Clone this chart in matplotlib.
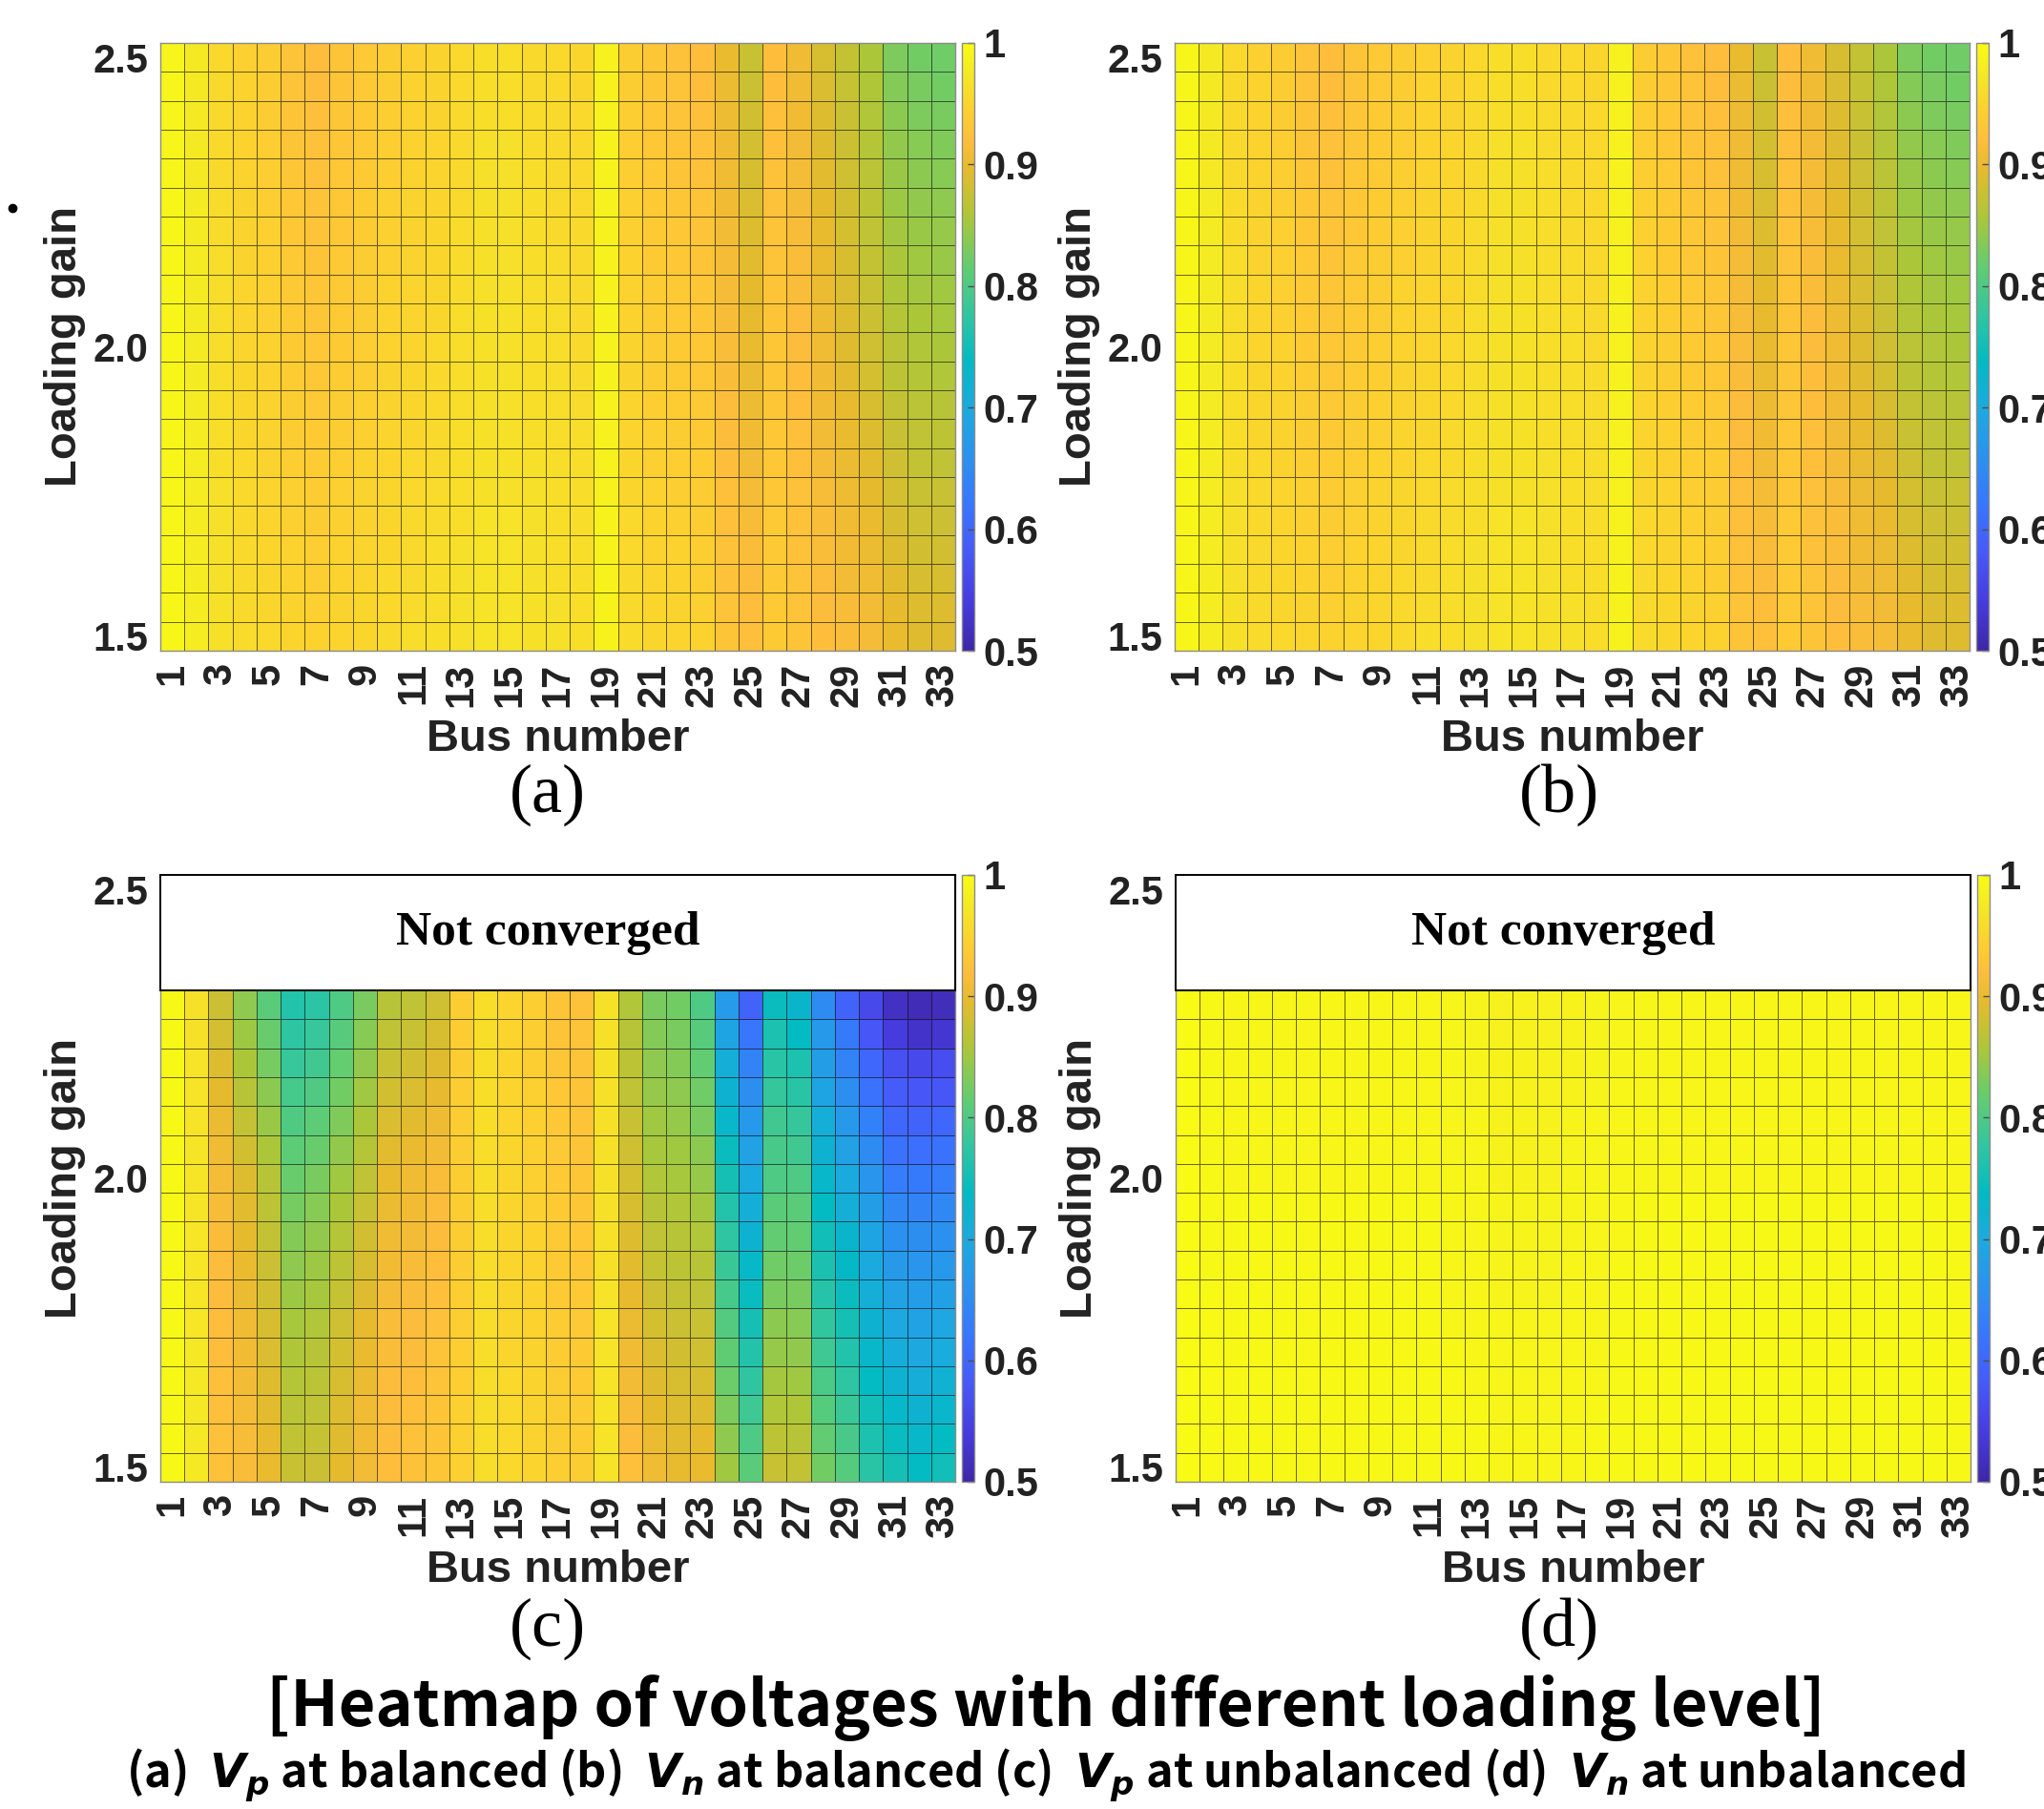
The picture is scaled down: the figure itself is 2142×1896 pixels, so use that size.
import matplotlib
matplotlib.use('Agg')

import numpy as np
import matplotlib.pyplot as plt
from matplotlib.colors import LinearSegmentedColormap
from matplotlib.patches import Rectangle
from matplotlib.lines import Line2D

# ---- data (per bus, voltage in p.u. vs loading gain) ----
buses = list(range(1, 34))
bus_ticks = list(range(1, 34, 2))
loading_bal = [1.50, 1.55, 1.60, 1.65, 1.70, 1.75, 1.80, 1.85, 1.90, 1.95, 2.00,
               2.05, 2.10, 2.15, 2.20, 2.25, 2.30, 2.35, 2.40, 2.45, 2.50]
loading_unbal = [1.50, 1.55, 1.60, 1.65, 1.70, 1.75, 1.80, 1.85, 1.90, 1.95, 2.00,
                 2.05, 2.10, 2.15, 2.20, 2.25, 2.30]
yticks = [1.5, 2.0, 2.5]
ytick_labels = ['1.5', '2.0', '2.5']
cb_ticks = [0.5, 0.6, 0.7, 0.8, 0.9, 1.0]
cb_labels = ['0.5', '0.6', '0.7', '0.8', '0.9', '1']

# (a) Vp at balanced, one list per bus, loading 1.5 -> 2.5
vp_bal = [
    [.994, .994, .994, .994, .994, .993, .993, .993, .993, .993, .993, .993, .993, .993, .993, .993, .992, .992, .992, .992, .992],
    [.980, .980, .980, .979, .979, .979, .979, .979, .978, .978, .978, .978, .977, .977, .977, .977, .976, .976, .976, .975, .975],
    [.965, .965, .964, .964, .963, .963, .962, .962, .961, .961, .960, .960, .959, .959, .958, .958, .957, .957, .956, .956, .955],
    [.958, .957, .957, .956, .955, .955, .954, .953, .953, .952, .951, .950, .950, .949, .949, .948, .947, .947, .946, .946, .945],
    [.954, .953, .952, .952, .951, .950, .949, .948, .948, .947, .946, .945, .945, .944, .944, .943, .942, .942, .941, .941, .940],
    [.950, .949, .947, .946, .945, .944, .942, .941, .940, .938, .937, .936, .935, .934, .933, .932, .930, .929, .928, .927, .926],
    [.946, .945, .943, .942, .940, .939, .938, .936, .935, .933, .932, .931, .930, .928, .927, .926, .925, .924, .922, .921, .920],
    [.950, .949, .947, .946, .945, .944, .942, .941, .940, .938, .937, .936, .935, .934, .933, .933, .932, .931, .930, .929, .928],
    [.953, .952, .951, .950, .949, .948, .946, .945, .944, .943, .942, .941, .940, .940, .939, .938, .937, .936, .936, .935, .934],
    [.956, .955, .954, .953, .952, .952, .951, .950, .949, .948, .947, .946, .946, .945, .944, .944, .943, .942, .942, .941, .940],
    [.959, .958, .957, .957, .956, .955, .954, .953, .953, .952, .951, .950, .950, .949, .949, .948, .947, .947, .946, .946, .945],
    [.961, .960, .960, .959, .958, .958, .957, .956, .955, .955, .954, .953, .953, .952, .952, .951, .950, .950, .949, .949, .948],
    [.964, .964, .963, .963, .962, .962, .961, .961, .960, .960, .959, .959, .958, .958, .958, .957, .957, .956, .956, .955, .955],
    [.968, .968, .967, .967, .967, .966, .966, .966, .965, .965, .965, .965, .964, .964, .964, .963, .963, .963, .962, .962, .962],
    [.968, .968, .967, .967, .967, .966, .966, .966, .965, .965, .965, .965, .964, .964, .964, .963, .963, .963, .962, .962, .962],
    [.965, .965, .964, .964, .963, .963, .963, .962, .962, .961, .961, .961, .960, .960, .959, .959, .959, .958, .958, .957, .957],
    [.963, .963, .962, .962, .961, .961, .961, .960, .960, .959, .959, .959, .958, .958, .957, .957, .957, .956, .956, .955, .955],
    [.962, .962, .961, .961, .960, .960, .959, .959, .958, .958, .957, .957, .956, .956, .956, .955, .955, .954, .954, .953, .953],
    [.987, .987, .987, .987, .987, .986, .986, .986, .986, .986, .986, .986, .986, .986, .986, .986, .985, .985, .985, .985, .985],
    [.958, .957, .956, .955, .954, .953, .952, .951, .950, .949, .948, .947, .946, .946, .945, .944, .943, .942, .942, .941, .940],
    [.953, .952, .950, .949, .948, .947, .945, .944, .943, .941, .940, .939, .938, .937, .936, .935, .934, .933, .932, .931, .930],
    [.950, .949, .947, .946, .944, .943, .942, .940, .939, .937, .936, .935, .934, .933, .932, .931, .929, .928, .927, .926, .925],
    [.946, .945, .943, .942, .940, .939, .938, .936, .935, .933, .932, .931, .930, .928, .927, .926, .925, .924, .922, .921, .920],
    [.928, .927, .925, .924, .923, .922, .920, .919, .918, .916, .915, .914, .912, .911, .909, .908, .906, .905, .903, .902, .900],
    [.922, .920, .918, .915, .913, .911, .909, .907, .904, .902, .900, .898, .895, .893, .890, .888, .886, .883, .881, .878, .876],
    [.936, .935, .935, .934, .934, .933, .932, .932, .931, .931, .930, .929, .928, .927, .926, .925, .924, .923, .922, .921, .920],
    [.928, .927, .926, .925, .924, .924, .923, .922, .921, .920, .919, .918, .916, .915, .913, .912, .911, .909, .908, .906, .905],
    [.921, .919, .918, .916, .915, .913, .911, .910, .908, .907, .905, .903, .901, .899, .897, .896, .894, .892, .890, .888, .886],
    [.915, .913, .910, .908, .906, .904, .901, .899, .897, .894, .892, .890, .888, .886, .884, .882, .880, .878, .876, .874, .872],
    [.912, .909, .906, .902, .899, .896, .893, .890, .886, .883, .880, .878, .875, .873, .870, .868, .866, .863, .861, .858, .856],
    [.900, .897, .893, .890, .886, .883, .880, .876, .873, .869, .866, .863, .859, .856, .852, .849, .846, .842, .839, .835, .832],
    [.892, .889, .886, .882, .879, .876, .873, .870, .866, .863, .860, .857, .853, .850, .846, .843, .839, .836, .832, .829, .825],
    [.892, .889, .885, .882, .878, .875, .871, .868, .864, .861, .857, .854, .850, .847, .844, .840, .837, .833, .830, .826, .823],
]

# (b) Vn at balanced: reads the same as (a) in the picture
vn_bal = [col[:] for col in vp_bal]

# (c) Vp at unbalanced, loading 1.5 -> 2.3 (not converged above)
vp_unbal = [
    [.995, .995, .995, .995, .995, .995, .995, .995, .995, .995, .995, .995, .995, .995, .995, .995, .995],
    [.975, .974, .974, .973, .973, .972, .972, .971, .971, .970, .970, .969, .968, .967, .967, .966, .965],
    [.925, .924, .923, .922, .921, .920, .918, .917, .915, .914, .912, .906, .901, .895, .889, .884, .878],
    [.915, .913, .911, .909, .907, .905, .902, .899, .896, .893, .890, .882, .873, .865, .857, .848, .840],
    [.900, .897, .894, .891, .888, .885, .881, .877, .873, .869, .865, .856, .847, .838, .828, .819, .810],
    [.875, .871, .867, .863, .859, .855, .848, .841, .834, .827, .820, .811, .802, .793, .783, .774, .765],
    [.878, .874, .871, .867, .864, .860, .854, .848, .842, .836, .830, .820, .811, .801, .791, .782, .772],
    [.895, .892, .889, .886, .883, .880, .874, .868, .862, .856, .850, .842, .833, .825, .817, .808, .800],
    [.910, .907, .905, .902, .900, .897, .892, .886, .881, .875, .870, .863, .857, .850, .843, .837, .830],
    [.920, .919, .918, .917, .916, .915, .912, .908, .905, .901, .898, .893, .887, .882, .876, .871, .865],
    [.925, .924, .922, .921, .919, .918, .915, .913, .910, .908, .905, .899, .893, .888, .882, .876, .870],
    [.930, .929, .928, .927, .926, .925, .923, .921, .919, .917, .915, .909, .903, .898, .892, .886, .880],
    [.945, .944, .944, .943, .943, .942, .942, .941, .941, .940, .940, .940, .940, .940, .940, .940, .940],
    [.960, .960, .960, .960, .960, .960, .960, .960, .960, .960, .960, .960, .961, .961, .961, .962, .962],
    [.955, .955, .954, .954, .953, .953, .953, .952, .952, .952, .952, .952, .951, .951, .951, .950, .950],
    [.950, .949, .949, .948, .948, .947, .947, .946, .946, .945, .945, .945, .944, .944, .943, .943, .942],
    [.942, .941, .940, .940, .939, .938, .937, .937, .936, .936, .935, .934, .933, .932, .930, .929, .928],
    [.940, .939, .938, .937, .936, .935, .934, .933, .932, .931, .930, .929, .928, .928, .927, .926, .925],
    [.968, .968, .968, .967, .967, .967, .967, .966, .966, .965, .965, .965, .965, .965, .965, .965, .965],
    [.922, .918, .914, .910, .906, .902, .898, .894, .890, .886, .883, .879, .875, .871, .868, .864, .860],
    [.905, .901, .896, .892, .888, .883, .879, .874, .870, .865, .860, .855, .850, .845, .840, .835, .830],
    [.898, .894, .890, .886, .881, .877, .873, .869, .865, .860, .855, .850, .845, .840, .835, .830, .825],
    [.900, .895, .890, .885, .880, .875, .870, .865, .860, .853, .845, .838, .830, .823, .815, .808, .800],
    [.850, .841, .831, .822, .813, .803, .794, .784, .775, .765, .755, .745, .730, .720, .710, .690, .675],
    [.810, .799, .788, .776, .765, .754, .743, .731, .720, .710, .700, .685, .670, .655, .640, .620, .595],
    [.875, .868, .860, .853, .845, .838, .830, .823, .815, .810, .800, .795, .790, .780, .770, .760, .745],
    [.872, .865, .858, .851, .843, .836, .829, .822, .815, .810, .800, .790, .780, .770, .760, .740, .725],
    [.825, .816, .806, .797, .788, .778, .769, .759, .750, .740, .730, .720, .710, .690, .680, .670, .650],
    [.805, .795, .785, .775, .765, .755, .745, .735, .725, .710, .700, .685, .670, .655, .640, .625, .595],
    [.770, .760, .750, .740, .730, .720, .710, .700, .690, .680, .665, .650, .635, .615, .600, .580, .560],
    [.755, .743, .731, .719, .708, .696, .684, .672, .660, .645, .630, .615, .600, .585, .570, .540, .520],
    [.740, .729, .719, .708, .698, .687, .676, .666, .655, .640, .625, .610, .595, .580, .560, .525, .510],
    [.750, .739, .728, .716, .705, .694, .683, .671, .660, .645, .630, .615, .600, .580, .565, .530, .515],
]

# (d) Vn at unbalanced, loading 1.5 -> 2.3
vn_unbal = [
    [.999, .999, .999, .999, .999, .999, .999, .999, .999, .999, .999, .999, .999, .999, .999, .999, .999],
    [.997, .997, .997, .997, .997, .997, .997, .996, .996, .996, .996, .996, .996, .996, .996, .996, .996],
    [.996, .996, .996, .996, .995, .995, .995, .995, .995, .995, .994, .994, .994, .994, .993, .993, .993],
    [.996, .996, .996, .996, .995, .995, .995, .995, .995, .995, .994, .994, .994, .994, .993, .993, .993],
    [.996, .996, .996, .996, .995, .995, .995, .995, .995, .995, .994, .994, .994, .994, .993, .993, .993],
    [.996, .996, .996, .996, .995, .995, .995, .995, .995, .995, .994, .994, .994, .994, .993, .993, .993],
    [.996, .996, .996, .996, .995, .995, .995, .995, .995, .995, .994, .994, .994, .994, .993, .993, .993],
    [.996, .996, .996, .996, .995, .995, .995, .995, .995, .995, .994, .994, .994, .994, .993, .993, .993],
    [.996, .996, .996, .996, .995, .995, .995, .995, .995, .995, .994, .994, .994, .994, .993, .993, .993],
    [.996, .996, .996, .996, .995, .995, .995, .995, .995, .995, .994, .994, .994, .994, .993, .993, .993],
    [.996, .996, .996, .996, .995, .995, .995, .995, .995, .995, .994, .994, .994, .994, .993, .993, .993],
    [.996, .996, .995, .995, .995, .994, .994, .994, .993, .993, .993, .992, .992, .992, .991, .991, .991],
    [.995, .995, .995, .994, .994, .993, .993, .993, .992, .992, .991, .991, .991, .990, .990, .989, .989],
    [.993, .993, .992, .992, .991, .991, .990, .990, .989, .989, .988, .988, .988, .987, .987, .986, .986],
    [.993, .993, .992, .992, .991, .991, .990, .990, .989, .989, .988, .988, .988, .987, .987, .986, .986],
    [.993, .993, .992, .992, .991, .991, .990, .990, .989, .989, .988, .988, .988, .987, .987, .986, .986],
    [.994, .994, .993, .993, .992, .992, .991, .991, .990, .990, .989, .989, .989, .988, .988, .987, .987],
    [.995, .995, .995, .994, .994, .993, .993, .993, .992, .992, .991, .991, .991, .990, .990, .989, .989],
    [.996, .996, .996, .996, .995, .995, .995, .995, .994, .994, .994, .993, .993, .993, .992, .992, .992],
    [.996, .996, .996, .996, .995, .995, .995, .995, .995, .995, .994, .994, .994, .994, .993, .993, .993],
    [.996, .996, .996, .996, .995, .995, .995, .995, .995, .995, .994, .994, .994, .994, .993, .993, .993],
    [.996, .996, .996, .996, .995, .995, .995, .995, .995, .995, .994, .994, .994, .994, .993, .993, .993],
    [.996, .996, .996, .996, .995, .995, .995, .995, .995, .995, .994, .994, .994, .994, .993, .993, .993],
    [.996, .996, .996, .996, .995, .995, .995, .995, .995, .995, .994, .994, .994, .994, .993, .993, .993],
    [.996, .996, .996, .996, .995, .995, .995, .995, .995, .995, .994, .994, .994, .994, .993, .993, .993],
    [.996, .996, .996, .996, .995, .995, .995, .995, .995, .995, .994, .994, .994, .994, .993, .993, .993],
    [.996, .996, .996, .996, .995, .995, .995, .995, .995, .995, .994, .994, .994, .994, .993, .993, .993],
    [.996, .996, .996, .996, .995, .995, .995, .995, .995, .995, .994, .994, .994, .994, .993, .993, .993],
    [.996, .996, .996, .996, .995, .995, .995, .995, .995, .995, .994, .994, .994, .994, .993, .993, .993],
    [.996, .996, .996, .996, .995, .995, .995, .995, .995, .995, .994, .994, .994, .994, .993, .993, .993],
    [.996, .996, .996, .996, .995, .995, .995, .995, .995, .995, .994, .994, .994, .994, .993, .993, .993],
    [.996, .996, .996, .996, .995, .995, .995, .995, .995, .995, .994, .994, .994, .994, .993, .993, .993],
    [.996, .996, .996, .996, .995, .995, .995, .995, .995, .995, .994, .994, .994, .994, .993, .993, .993],
]

# ---- style ----
W, H = 2142, 1896
TXT = '#222222'
SANS = ['Liberation Sans', 'DejaVu Sans']
SERIF = ['Liberation Serif', 'DejaVu Serif']

plt.rcParams['font.family'] = SANS
plt.rcParams['mathtext.fontset'] = 'custom'
plt.rcParams['mathtext.it'] = 'DejaVu Sans:italic:bold'
plt.rcParams['mathtext.rm'] = 'DejaVu Sans:bold'

# MATLAB parula, sampled
parula_pts = [
    (0, (0.2422, 0.1504, 0.6603)), (5, (0.2751, 0.2342, 0.8710)),
    (10, (0.2795, 0.3447, 0.9717)), (15, (0.2206, 0.4603, 0.9973)),
    (20, (0.1687, 0.5703, 0.9359)), (25, (0.1113, 0.6635, 0.8763)),
    (30, (0.0067, 0.7312, 0.7660)), (35, (0.1938, 0.7758, 0.6251)),
    (40, (0.3909, 0.8029, 0.4354)), (45, (0.6720, 0.7793, 0.2227)),
    (50, (0.9035, 0.7330, 0.1774)), (53, (0.9956, 0.7434, 0.2371)),
    (56, (0.9892, 0.8136, 0.1885)), (60, (0.9597, 0.9135, 0.1423)),
    (63, (0.9769, 0.9839, 0.0805)),
]
parula = LinearSegmentedColormap.from_list(
    'parula', [(i / 63, c) for i, c in parula_pts])


def px_box(l, t, r, b):
    return [l / W, 1 - b / H, (r - l) / W, (b - t) / H]


def draw_panel(fig, ax_px, cb_px, volt, loading, not_converged=False):
    ax = fig.add_axes(px_box(*ax_px))
    z = np.array(volt).T
    xe = np.arange(0.5, len(buses) + 1, 1.0)
    ye = np.append(np.array(loading) - 0.025, loading[-1] + 0.025)
    mesh = ax.pcolormesh(xe, ye, z, cmap=parula, vmin=0.5, vmax=1.0,
                         edgecolors=(0.05, 0.05, 0.05, 0.62), linewidth=0.7)
    ax.set_xlim(0.5, 33.5)
    ax.set_ylim(1.475, 2.525)

    ax.set_xticks(bus_ticks)
    ax.set_xticklabels([str(b) for b in bus_ticks], rotation=90,
                       fontsize=30, fontweight='bold', color=TXT)
    ax.set_yticks(yticks)
    ax.set_yticklabels(ytick_labels, fontsize=30, fontweight='bold', color=TXT)
    ax.tick_params(length=0, pad=9)
    for s in ax.spines.values():
        s.set_color('0.55')
        s.set_linewidth(1.0)

    ax.set_xlabel('Bus number', fontsize=34, fontweight='bold', color=TXT)
    ax.xaxis.set_label_coords(0.5, -0.146)
    ax.xaxis.label.set_va('center')
    ax.set_ylabel('Loading gain', fontsize=34, fontweight='bold', color=TXT)
    ax.yaxis.set_label_coords(-0.12, 0.5)
    ax.yaxis.label.set_va('center')

    if not_converged:
        y0 = loading[-1] + 0.025
        ax.add_patch(Rectangle((0.5, y0), 33, 2.525 - y0, facecolor='white',
                               edgecolor='black', linewidth=1.4, zorder=3,
                               clip_on=False))
        ax.text(16.6, (y0 + 2.525) / 2, 'Not converged', ha='center',
                va='center', fontsize=37, fontweight='bold', family=SERIF,
                zorder=4)

    # colorbar: tick labels run past the right edge, as in the source
    cax = fig.add_axes(px_box(*cb_px))
    cb = fig.colorbar(mesh, cax=cax, ticks=cb_ticks)
    cb.ax.set_yticklabels(cb_labels, fontsize=30, fontweight='bold', color=TXT)
    cb.ax.tick_params(direction='in', length=5, width=1, color='0.3', pad=7)
    cb.outline.set_edgecolor('0.55')
    cb.outline.set_linewidth(1.0)
    return ax


fig = plt.figure(figsize=(W / 100, H / 100), dpi=100)

draw_panel(fig, (168, 45, 1001, 682), (1008, 45, 1021, 682), vp_bal, loading_bal)
draw_panel(fig, (1231, 45, 2064, 682), (2071, 45, 2084, 682), vn_bal, loading_bal)
draw_panel(fig, (168, 917, 1001, 1553), (1008, 917, 1021, 1553), vp_unbal,
           loading_unbal, not_converged=True)
draw_panel(fig, (1232, 917, 2065, 1553), (2072, 917, 2085, 1553), vn_unbal,
           loading_unbal, not_converged=True)

for lab, x, y in [('(a)', 574, 833), ('(b)', 1634, 833),
                  ('(c)', 574, 1707), ('(d)', 1634, 1707)]:
    fig.text(x / W, 1 - y / H, lab, ha='center', va='center', fontsize=52,
             family=SERIF, color='black')

fig.text(1096 / W, 1 - 1790 / H,
         '[Heatmap of voltages with different loading level]',
         ha='center', va='center', fontsize=48, fontweight='bold',
         family=['Noto Sans CJK KR', 'DejaVu Sans'], color='black')
fig.text(1096 / W, 1 - 1861 / H,
         r'(a)  $V_p$ at balanced (b)  $V_n$ at balanced '
         r'(c)  $V_p$ at unbalanced (d)  $V_n$ at unbalanced',
         ha='center', va='center', fontsize=35, fontweight='bold',
         family=['Noto Sans CJK KR', 'DejaVu Sans'], color='black')

# stray mark at the cropped left edge
fig.add_artist(Line2D([13 / W], [1 - 218 / H], marker='o', markersize=6,
                      color='black', linestyle='none',
                      transform=fig.transFigure))

fig.savefig('out.png', dpi=100)
